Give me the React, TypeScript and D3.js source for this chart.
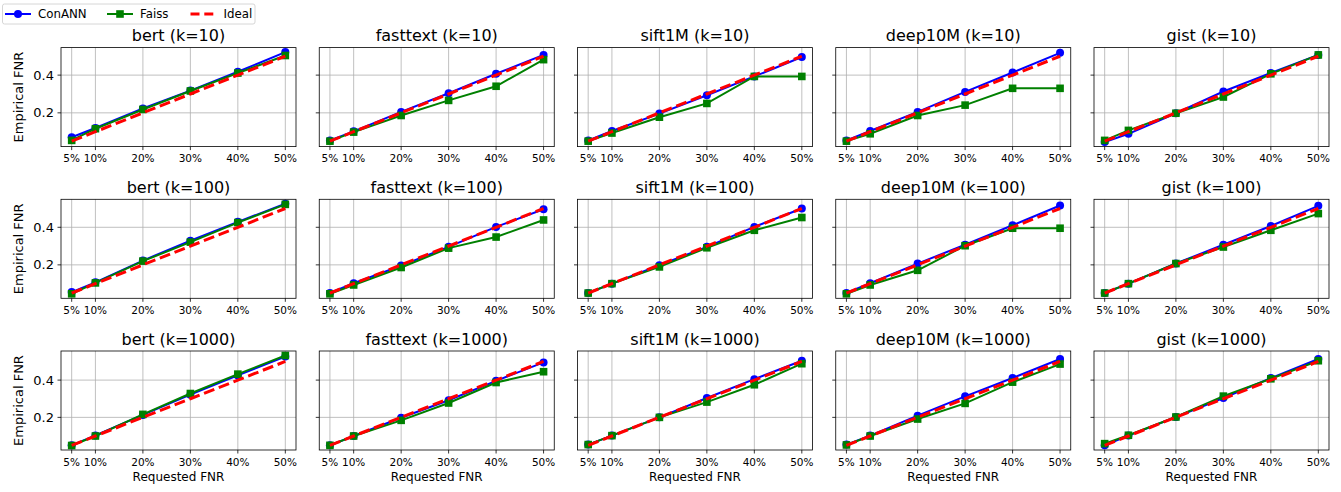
import * as d3 from "d3";
import { useEffect, useRef } from "react";

const datasets = ["bert", "fasttext", "sift1M", "deep10M", "gist"];
const kValues = [10, 100, 1000];
const requestedFnr = [5, 10, 20, 30, 40, 50];
const xTickLabels = ["5%", "10%", "20%", "30%", "40%", "50%"];
const yTicks = [0.2, 0.4];
const idealFnr = [0.05, 0.1, 0.2, 0.3, 0.4, 0.5];

// ConANN / Faiss empirical FNR, one line per dataset (bert, fasttext, sift1M, deep10M, gist)
const conannK10 = [
  [0.071, 0.12, 0.223, 0.318, 0.418, 0.522],
  [0.054, 0.102, 0.205, 0.304, 0.407, 0.507],
  [0.054, 0.104, 0.196, 0.293, 0.393, 0.496],
  [0.054, 0.104, 0.205, 0.311, 0.414, 0.518],
  [0.045, 0.089, 0.198, 0.313, 0.411, 0.507],
];
const faissK10 = [
  [0.054, 0.116, 0.218, 0.316, 0.411, 0.504],
  [0.05, 0.098, 0.186, 0.266, 0.341, 0.482],
  [0.05, 0.093, 0.177, 0.25, 0.393, 0.393],
  [0.05, 0.089, 0.186, 0.241, 0.33, 0.33],
  [0.054, 0.107, 0.198, 0.284, 0.407, 0.507],
];
const conannK100 = [
  [0.055, 0.107, 0.223, 0.329, 0.429, 0.525],
  [0.05, 0.102, 0.196, 0.296, 0.402, 0.496],
  [0.05, 0.1, 0.198, 0.296, 0.402, 0.5],
  [0.05, 0.102, 0.207, 0.307, 0.411, 0.516],
  [0.05, 0.1, 0.207, 0.307, 0.407, 0.514],
];
const faissK100 = [
  [0.046, 0.104, 0.22, 0.321, 0.425, 0.522],
  [0.046, 0.093, 0.186, 0.289, 0.348, 0.439],
  [0.05, 0.1, 0.189, 0.291, 0.384, 0.452],
  [0.046, 0.093, 0.171, 0.302, 0.395, 0.395],
  [0.05, 0.1, 0.207, 0.295, 0.384, 0.473],
];
const conannK1000 = [
  [0.05, 0.103, 0.213, 0.322, 0.425, 0.526],
  [0.05, 0.1, 0.198, 0.292, 0.396, 0.495],
  [0.054, 0.102, 0.2, 0.304, 0.405, 0.504],
  [0.054, 0.102, 0.209, 0.313, 0.411, 0.513],
  [0.05, 0.102, 0.202, 0.304, 0.411, 0.513],
];
const faissK1000 = [
  [0.049, 0.1, 0.216, 0.328, 0.432, 0.532],
  [0.05, 0.1, 0.184, 0.277, 0.387, 0.445],
  [0.054, 0.102, 0.2, 0.282, 0.375, 0.488],
  [0.052, 0.1, 0.191, 0.275, 0.389, 0.486],
  [0.059, 0.104, 0.202, 0.314, 0.407, 0.504],
];

const conannRows = [conannK10, conannK100, conannK1000];
const faissRows = [faissK10, faissK100, faissK1000];

const FONT = "DejaVu Sans, sans-serif";

const App = () => {
  const svgRef = useRef<SVGSVGElement>(null);

  useEffect(() => {
    if (!svgRef.current) return;
    const width = 1341;
    const height = 492;

    const svg = d3
      .select(svgRef.current)
      .attr("width", width)
      .attr("height", height)
      .style("background", "#fff");
    svg.selectAll("*").remove();

    // grille des sous-graphes
    const colLeft = 61;
    const colStep = 258.25;
    const axW = 235;
    const rowTop = 47.6;
    const rowStep = 151.7;
    const axH = 99;

    const x = d3.scaleLinear().domain([2.75, 52.25]).range([0, axW]);

    kValues.forEach((k, r) => {
      // axe y partagé par ligne, marge de 5% comme matplotlib
      const all = [...conannRows[r].flat(), ...faissRows[r].flat(), ...idealFnr];
      const [lo, hi] = d3.extent(all) as [number, number];
      const pad = (hi - lo) * 0.05;
      const y = d3.scaleLinear().domain([lo - pad, hi + pad]).range([axH, 0]);

      datasets.forEach((name, c) => {
        const g = svg
          .append("g")
          .attr("transform", `translate(${colLeft + c * colStep}, ${rowTop + r * rowStep})`);

        // grille
        g.selectAll(".vgrid")
          .data(requestedFnr)
          .enter()
          .append("line")
          .attr("x1", (d) => x(d))
          .attr("x2", (d) => x(d))
          .attr("y1", 0)
          .attr("y2", axH)
          .attr("stroke", "#b0b0b0")
          .attr("stroke-width", 0.8);
        g.selectAll(".hgrid")
          .data(yTicks)
          .enter()
          .append("line")
          .attr("x1", 0)
          .attr("x2", axW)
          .attr("y1", (d) => y(d))
          .attr("y2", (d) => y(d))
          .attr("stroke", "#b0b0b0")
          .attr("stroke-width", 0.8);

        // séries
        const line = d3
          .line<number>()
          .x((_, i) => x(requestedFnr[i]))
          .y((d) => y(d));

        const conann = conannRows[r][c];
        const faiss = faissRows[r][c];

        g.append("path")
          .attr("d", line(conann))
          .attr("fill", "none")
          .attr("stroke", "#0000ff")
          .attr("stroke-width", 2);
        g.selectAll(".dot")
          .data(conann)
          .enter()
          .append("circle")
          .attr("cx", (_, i) => x(requestedFnr[i]))
          .attr("cy", (d) => y(d))
          .attr("r", 4)
          .attr("fill", "#0000ff");

        g.append("path")
          .attr("d", line(faiss))
          .attr("fill", "none")
          .attr("stroke", "#008000")
          .attr("stroke-width", 2);
        g.selectAll(".sq")
          .data(faiss)
          .enter()
          .append("rect")
          .attr("x", (_, i) => x(requestedFnr[i]) - 3.8)
          .attr("y", (d) => y(d) - 3.8)
          .attr("width", 7.6)
          .attr("height", 7.6)
          .attr("fill", "#008000");

        g.append("path")
          .attr("d", line(idealFnr))
          .attr("fill", "none")
          .attr("stroke", "#ff0000")
          .attr("stroke-width", 3)
          .attr("stroke-dasharray", "11,4.8");

        // cadre
        g.append("rect")
          .attr("width", axW)
          .attr("height", axH)
          .attr("fill", "none")
          .attr("stroke", "#000")
          .attr("stroke-width", 0.8);

        // ticks x
        const xt = g.append("g").attr("transform", `translate(0, ${axH})`);
        requestedFnr.forEach((v, i) => {
          xt.append("line")
            .attr("x1", x(v))
            .attr("x2", x(v))
            .attr("y1", 0)
            .attr("y2", 3.5)
            .attr("stroke", "#000")
            .attr("stroke-width", 0.8);
          xt.append("text")
            .attr("x", x(v))
            .attr("y", 15.5)
            .attr("text-anchor", "middle")
            .style("font-family", FONT)
            .style("font-size", "10.5px")
            .text(xTickLabels[i]);
        });

        // ticks y
        yTicks.forEach((v) => {
          g.append("line")
            .attr("x1", -3.5)
            .attr("x2", 0)
            .attr("y1", y(v))
            .attr("y2", y(v))
            .attr("stroke", "#000")
            .attr("stroke-width", 0.8);
          if (c === 0) {
            g.append("text")
              .attr("x", -7)
              .attr("y", y(v))
              .attr("dy", "0.35em")
              .attr("text-anchor", "end")
              .style("font-family", FONT)
              .style("font-size", "13px")
              .text(v.toFixed(1));
          }
        });

        // titre
        g.append("text")
          .attr("x", axW / 2)
          .attr("y", -6.5)
          .attr("text-anchor", "middle")
          .style("font-family", FONT)
          .style("font-size", "16px")
          .text(`${name} (k=${k})`);

        if (c === 0) {
          g.append("text")
            .attr("transform", `translate(-38, ${axH / 2}) rotate(-90)`)
            .attr("text-anchor", "middle")
            .style("font-family", FONT)
            .style("font-size", "13px")
            .text("Empirical FNR");
        }
        if (r === kValues.length - 1) {
          g.append("text")
            .attr("x", axW / 2)
            .attr("y", axH + 31)
            .attr("text-anchor", "middle")
            .style("font-family", FONT)
            .style("font-size", "12px")
            .text("Requested FNR");
        }
      });
    });

    // légende
    const legend = svg.append("g");
    legend
      .append("rect")
      .attr("x", 2.5)
      .attr("y", 4)
      .attr("width", 252.5)
      .attr("height", 20)
      .attr("rx", 2)
      .attr("fill", "#fff")
      .attr("stroke", "#cccccc")
      .attr("stroke-width", 0.8);

    const items = [
      { label: "ConANN", color: "#0000ff", x0: 5, marker: "circle" },
      { label: "Faiss", color: "#008000", x0: 107, marker: "square" },
      { label: "Ideal", color: "#ff0000", x0: 190.5, marker: "none" },
    ];
    items.forEach((it) => {
      const ly = 14;
      legend
        .append("line")
        .attr("x1", it.x0)
        .attr("x2", it.x0 + 26)
        .attr("y1", ly)
        .attr("y2", ly)
        .attr("stroke", it.color)
        .attr("stroke-width", it.marker === "none" ? 3 : 2)
        .attr("stroke-dasharray", it.marker === "none" ? "9,4.8" : null);
      if (it.marker === "circle") {
        legend.append("circle").attr("cx", it.x0 + 13).attr("cy", ly).attr("r", 4).attr("fill", it.color);
      } else if (it.marker === "square") {
        legend
          .append("rect")
          .attr("x", it.x0 + 13 - 3.8)
          .attr("y", ly - 3.8)
          .attr("width", 7.6)
          .attr("height", 7.6)
          .attr("fill", it.color);
      }
      legend
        .append("text")
        .attr("x", it.x0 + 33)
        .attr("y", ly)
        .attr("dy", "0.35em")
        .style("font-family", FONT)
        .style("font-size", "11.8px")
        .text(it.label);
    });
  }, []);

  return (
    <div style={{ position: "absolute", left: 0, top: 0 }}>
      <svg ref={svgRef}></svg>
    </div>
  );
};

export default App;
